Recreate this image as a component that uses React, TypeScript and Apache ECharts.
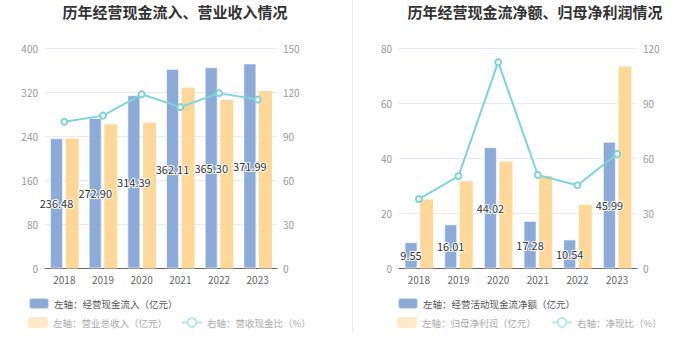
import React, { useEffect, useRef } from "react";
import * as echarts from "echarts";

const years = ["2018", "2019", "2020", "2021", "2022", "2023"];
const cashInflow = [236.48, 272.9, 314.39, 362.11, 365.3, 371.99];
const revenue = [236.0, 261.5, 264.5, 328.0, 305.5, 322.0];
const cashRevenueRatio = [99.8, 104.0, 118.5, 109.8, 119.3, 114.9];

const netCashFlow = [9.55, 16.01, 44.02, 17.28, 10.54, 45.99];
const netProfit = [25.0, 31.7, 38.8, 33.6, 23.1, 73.3];
const netCashRatio = [37.8, 50.3, 112.3, 50.9, 45.3, 62.3];

const leftTicks = { max: 400, interval: 80 };
const leftRightTicks = { max: 150, interval: 30 };
const rightTicks = { max: 80, interval: 20 };
const rightRightTicks = { max: 120, interval: 30 };

const FONT = "Noto Sans CJK SC";
const BLUE = "#8cabd9";
const ORANGE = "#ffd899";
const CYAN = "#7fd4d8";

export default function App() {
  const ref = useRef<HTMLDivElement>(null);
  useEffect(() => {
    if (!ref.current) return;
    const chart = echarts.init(ref.current, undefined, { renderer: "svg" });
    const yLeft = (t: { max: number; interval: number }, gridIndex: number) => ({
      type: "value",
      gridIndex,
      min: 0,
      max: t.max,
      interval: t.interval,
      axisLine: { show: false },
      axisTick: { show: false },
      axisLabel: { color: "#999", fontSize: 10, margin: 7, fontFamily: FONT },
      splitLine: { lineStyle: { color: "#e6ebf5" } },
    });
    const yRight = (t: { max: number; interval: number }, gridIndex: number) => ({
      type: "value",
      gridIndex,
      position: "right",
      min: 0,
      max: t.max,
      interval: t.interval,
      axisLine: { show: false },
      axisTick: { show: false },
      axisLabel: { color: "#999", fontSize: 10, margin: 6, fontFamily: FONT },
      splitLine: { show: false },
    });
    const xAxis = (gridIndex: number) => ({
      type: "category",
      gridIndex,
      data: years,
      axisLine: { lineStyle: { color: "#666" } },
      axisTick: { alignWithLabel: true, length: 4, lineStyle: { color: "#666" } },
      axisLabel: { color: "#666", fontSize: 10, margin: 6, fontFamily: FONT },
    });
    const barLabel = {
      show: true,
      position: "inside",
      color: "#333",
      fontSize: 11,
      fontFamily: FONT,
      textBorderColor: "#fff",
      textBorderWidth: 2,
      formatter: (p: any) => Number(p.value).toFixed(2),
    };
    const lineSeries = (name: string, data: number[], xi: number, yi: number) => ({
      name,
      type: "line",
      xAxisIndex: xi,
      yAxisIndex: yi,
      data,
      symbol: "emptyCircle",
      symbolSize: 6,
      lineStyle: { color: CYAN, width: 2 },
      itemStyle: { color: CYAN },
      z: 5,
    });
    const legendText = { fontSize: 9.5, fontFamily: FONT };
    const fadedLine = {
      itemStyle: { color: "#b5e7ea" },
      lineStyle: { color: "#b5e7ea" },
    };
    const option: any = {
      animation: false,
      textStyle: { fontFamily: FONT },
      title: [
        {
          text: "历年经营现金流入、营业收入情况",
          left: 170,
          textAlign: "center",
          top: -1,
          textStyle: { fontSize: 15, fontWeight: "bold", color: "#333", fontFamily: FONT },
        },
        {
          text: "历年经营现金流净额、归母净利润情况",
          left: 530,
          textAlign: "center",
          top: -1,
          textStyle: { fontSize: 15, fontWeight: "bold", color: "#333", fontFamily: FONT },
        },
      ],
      grid: [
        { left: 45, width: 232, top: 48, height: 220.5, containLabel: false },
        { left: 399, width: 238, top: 48, height: 220.5, containLabel: false },
      ],
      xAxis: [xAxis(0), xAxis(1)],
      yAxis: [yLeft(leftTicks, 0), yRight(leftRightTicks, 0), yLeft(rightTicks, 1), yRight(rightRightTicks, 1)],
      legend: [
        {
          left: 28, top: 297, padding: 0, itemWidth: 20, itemHeight: 11, selectedMode: false,
          textStyle: { ...legendText, color: "#555" },
          data: [{ name: "左轴：经营现金流入（亿元）", itemStyle: { borderRadius: 3 } }],
        },
        {
          left: 28, top: 317, padding: 0, itemWidth: 20, itemHeight: 11, itemGap: 14, selectedMode: false,
          textStyle: { ...legendText, color: "#aaa" },
          data: [
            { name: "左轴：营业总收入（亿元）", itemStyle: { color: "#ffe9c8", borderRadius: 3 } },
            { name: "右轴：营收现金比（%）", ...fadedLine },
          ],
        },
        {
          left: 397, top: 297, padding: 0, itemWidth: 20, itemHeight: 11, selectedMode: false,
          textStyle: { ...legendText, color: "#555" },
          data: [{ name: "左轴：经营活动现金流净额（亿元）", itemStyle: { borderRadius: 3 } }],
        },
        {
          left: 397, top: 317, padding: 0, itemWidth: 20, itemHeight: 11, itemGap: 15, selectedMode: false,
          textStyle: { ...legendText, color: "#aaa" },
          data: [
            { name: "左轴：归母净利润（亿元）", itemStyle: { color: "#ffe9c8", borderRadius: 3 } },
            { name: "右轴：净现比（%）", ...fadedLine },
          ],
        },
      ],
      graphic: [
        {
          type: "line",
          shape: { x1: 352.5, y1: 0, x2: 352.5, y2: 333 },
          style: { stroke: "#eeeeee", lineWidth: 1 },
        },
      ],
      series: [
        {
          name: "左轴：经营现金流入（亿元）",
          type: "bar",
          xAxisIndex: 0,
          yAxisIndex: 0,
          data: cashInflow,
          barWidth: 13,
          barGap: "20%",
          itemStyle: { color: BLUE, borderColor: "rgba(255,255,255,0.6)", borderWidth: 1 },
          label: barLabel,
          z: 3,
        },
        {
          name: "左轴：营业总收入（亿元）",
          type: "bar",
          xAxisIndex: 0,
          yAxisIndex: 0,
          data: revenue,
          barWidth: 13,
          barGap: "20%",
          itemStyle: { color: ORANGE },
          z: 2,
        },
        lineSeries("右轴：营收现金比（%）", cashRevenueRatio, 0, 1),
        {
          name: "左轴：经营活动现金流净额（亿元）",
          type: "bar",
          xAxisIndex: 1,
          yAxisIndex: 2,
          data: netCashFlow,
          barWidth: 13,
          barGap: "20%",
          itemStyle: { color: BLUE, borderColor: "rgba(255,255,255,0.6)", borderWidth: 1 },
          label: barLabel,
          z: 3,
        },
        {
          name: "左轴：归母净利润（亿元）",
          type: "bar",
          xAxisIndex: 1,
          yAxisIndex: 2,
          data: netProfit,
          barWidth: 13,
          barGap: "20%",
          itemStyle: { color: ORANGE },
          z: 2,
        },
        lineSeries("右轴：净现比（%）", netCashRatio, 1, 3),
      ],
    };
    chart.setOption(option);
    return () => chart.dispose();
  }, []);
  return (
    <div
      ref={ref}
      style={{ position: "absolute", left: 0, top: 0, width: 700, height: 359, background: "#fff" }}
    />
  );
}
